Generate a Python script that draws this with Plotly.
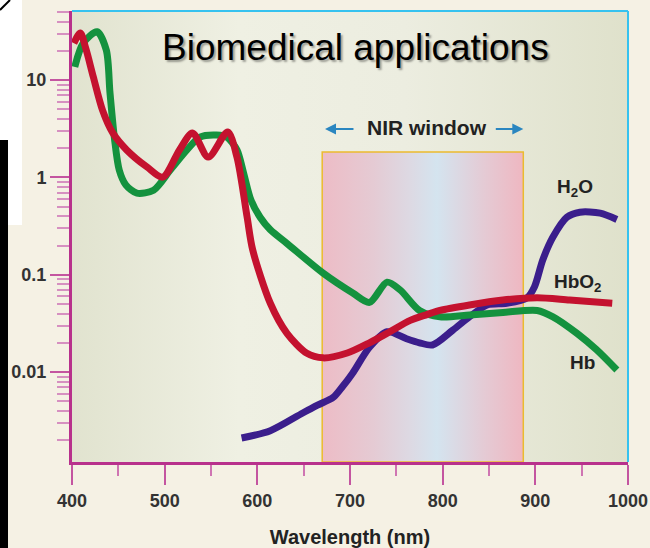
import plotly.graph_objects as go

# Absorption spectra (arbitrary absorption units, log scale)
WAVELENGTH_HB = [403, 412, 427, 437, 441, 446, 451, 458, 470, 488, 506, 524, 538, 556, 567,
                 578, 585, 593, 603, 614, 632, 671, 703, 721, 740, 754, 775, 797, 829, 865,
                 902, 919, 945, 966, 988]
ABS_HB = [13.7, 23.9, 31.5, 20.4, 7.4, 2.43, 1.19, 0.84, 0.69, 0.74, 1.19, 1.92, 2.6, 2.73,
          2.6, 1.92, 1.13, 0.59, 0.39, 0.29, 0.21, 0.104, 0.065, 0.052, 0.084, 0.070, 0.043,
          0.037, 0.0386, 0.041, 0.043, 0.037, 0.025, 0.017, 0.0105]

WAVELENGTH_HBO2 = [402, 409, 415, 423, 433, 444, 459, 481, 498, 516, 530, 547, 568, 578, 589,
                   595, 614, 632, 653, 671, 697, 721, 743, 765, 783, 797, 829, 865, 902, 937,
                   983]
ABS_HBO2 = [24.0, 30.5, 21.0, 10.8, 4.9, 2.87, 1.92, 1.28, 1.01, 1.92, 2.87, 1.62, 2.94, 1.62,
            0.39, 0.18, 0.051, 0.025, 0.0157, 0.014, 0.0157, 0.020, 0.026, 0.034, 0.039,
            0.043, 0.049, 0.055, 0.058, 0.055, 0.051]

WAVELENGTH_H2O = [583, 614, 649, 665, 682, 692, 703, 721, 740, 761, 775, 789, 811, 829, 848,
                  869, 891, 899, 908, 919, 934, 948, 970, 988]
ABS_H2O = [0.0021, 0.0025, 0.0038, 0.00457, 0.0055, 0.0071, 0.0098, 0.018, 0.026, 0.022,
           0.020, 0.019, 0.027, 0.037, 0.049, 0.051, 0.058, 0.075, 0.142, 0.244, 0.39, 0.44,
           0.43, 0.37]

X_TICKS = [400, 500, 600, 700, 800, 900, 1000]
X_MINOR = [450, 550, 650, 750, 850, 950]
Y_TICKS = [0.01, 0.1, 1, 10]
Y_TICK_TEXT = ["0.01", "0.1", "1", "10"]
Y_MINOR = [m * 10.0 ** e for e in range(-3, 2) for m in range(2, 10)]

NIR_START, NIR_END = 670, 887
NIR_TOP = 1.83

X_RANGE = [400, 1000]
Y_LOG_RANGE = [-2.924, 1.711]
Y_MIN, Y_MAX = 10 ** Y_LOG_RANGE[0], 10 ** Y_LOG_RANGE[1]

FONT = "Arial, Liberation Sans, sans-serif"
MAGENTA = "#b8318c"

fig = go.Figure()

# plot-area background tint
fig.add_trace(go.Scatter(
    x=[X_RANGE[0], X_RANGE[1], X_RANGE[1], X_RANGE[0], X_RANGE[0]],
    y=[Y_MIN, Y_MIN, Y_MAX, Y_MAX, Y_MIN],
    mode="lines", fill="toself", line=dict(width=0),
    fillgradient=dict(type="horizontal",
                      colorscale=[[0, "#e1e3cf"], [0.3, "#eff0e3"], [0.6, "#ecede0"],
                                  [1, "#dfe1cb"]]),
    hoverinfo="skip", showlegend=False))

# NIR window band
fig.add_trace(go.Scatter(
    x=[NIR_START, NIR_END, NIR_END, NIR_START, NIR_START],
    y=[Y_MIN, Y_MIN, NIR_TOP, NIR_TOP, Y_MIN],
    mode="lines", fill="toself", line=dict(width=1.5, color="#ebbb2e"),
    fillgradient=dict(type="horizontal",
                      colorscale=[[0, "#edbcc6"], [0.25, "#e5cad3"], [0.45, "#dcdae4"],
                                  [0.57, "#d4e4ef"], [0.8, "#e4cbd5"], [1, "#efb7c1"]]),
    hoverinfo="skip", showlegend=False))

for wl, ab, color, name in [
    (WAVELENGTH_H2O, ABS_H2O, "#3b1e8c", "H2O"),
    (WAVELENGTH_HB, ABS_HB, "#14923e", "Hb"),
    (WAVELENGTH_HBO2, ABS_HBO2, "#c4122f", "HbO2"),
]:
    fig.add_trace(go.Scatter(
        x=wl, y=ab, mode="lines", name=name,
        line=dict(color=color, width=7, shape="spline", smoothing=0.8),
        showlegend=False))

annotations = [
    dict(text="Biomedical applications", x=0.509, y=0.918, xref="paper", yref="paper",
         showarrow=False, xanchor="center", yanchor="middle",
         font=dict(family=FONT, size=37, color="#000000",
                   shadow="2px 2px 2px rgba(0,0,0,0.35)")),
    dict(text="<b>NIR window</b>", x=0.638, y=0.7406, xref="paper", yref="paper",
         showarrow=False, xanchor="center", yanchor="middle",
         font=dict(family=FONT, size=21, color="#222222")),
    dict(text="", x=NIR_START + 3, y=0.7384, xref="x", yref="paper",
         ax=30, ay=0, showarrow=True, arrowhead=2, arrowsize=1, arrowwidth=2.2,
         arrowcolor="#2a86c0"),
    dict(text="", x=NIR_END, y=0.7384, xref="x", yref="paper",
         ax=-29, ay=0, showarrow=True, arrowhead=2, arrowsize=1, arrowwidth=2.2,
         arrowcolor="#2a86c0"),
    dict(text="<b>H<sub>2</sub>O</b>", x=0.905, y=0.6075, xref="paper", yref="paper",
         showarrow=False, xanchor="center", yanchor="middle",
         font=dict(family=FONT, size=19, color="#222222")),
    dict(text="<b>HbO<sub>2</sub></b>", x=0.910, y=0.397, xref="paper", yref="paper",
         showarrow=False, xanchor="center", yanchor="middle",
         font=dict(family=FONT, size=19, color="#222222")),
    dict(text="<b>Hb</b>", x=0.919, y=0.2217, xref="paper", yref="paper",
         showarrow=False, xanchor="center", yanchor="middle",
         font=dict(family=FONT, size=19, color="#222222")),
]

shapes = [
    # page surround
    dict(type="rect", xref="paper", yref="paper", x0=-0.1295, x1=-0.0899, y0=0.5255,
         y1=1.03, fillcolor="#ffffff", line=dict(width=0), layer="below"),
    dict(type="rect", xref="paper", yref="paper", x0=-0.1295, x1=-0.1151, y0=-0.2,
         y1=0.714, fillcolor="#000000", line=dict(width=0), layer="below"),
    dict(type="line", xref="paper", yref="paper", x0=-0.1295, x1=-0.1115, y0=1.0022,
         y1=1.0244, line=dict(color="#000000", width=2)),
    # cyan frame on top and right
    dict(type="line", xref="paper", yref="paper", x0=0, x1=1, y0=1, y1=1,
         line=dict(color="#36c2ef", width=2)),
    dict(type="line", xref="paper", yref="paper", x0=1, x1=1, y0=0, y1=1,
         line=dict(color="#36c2ef", width=2)),
]

fig.update_layout(
    width=650, height=548,
    margin=dict(l=72, r=22, t=11, b=86),
    paper_bgcolor="#f5f1e4", plot_bgcolor="#e8e9d8",
    annotations=annotations, shapes=shapes,
    showlegend=False,
    font=dict(family=FONT),
)

fig.update_xaxes(
    range=X_RANGE, showgrid=False, zeroline=False, automargin=False,
    showline=True, linecolor=MAGENTA, linewidth=3,
    tickmode="array", tickvals=X_TICKS, ticktext=[str(v) for v in X_TICKS],
    ticks="outside", ticklen=20, tickwidth=2, tickcolor="#c455a0",
    tickfont=dict(family=FONT, size=18, color="#333333", weight="bold"),
    minor=dict(tickmode="array", tickvals=X_MINOR, ticks="outside", ticklen=11,
               tickwidth=2, tickcolor="#cf75b2"),
    title=dict(text="Wavelength (nm)", standoff=24,
               font=dict(family=FONT, size=20, color="#222222", weight="bold")),
)

fig.update_yaxes(
    type="log", range=Y_LOG_RANGE, showgrid=False, zeroline=False, automargin=False,
    showline=True, linecolor=MAGENTA, linewidth=3,
    tickmode="array", tickvals=Y_TICKS, ticktext=Y_TICK_TEXT,
    ticks="outside", ticklen=19, tickwidth=2, tickcolor="#c455a0",
    tickfont=dict(family=FONT, size=18, color="#333333", weight="bold"),
    minor=dict(tickmode="array", tickvals=Y_MINOR, ticks="outside", ticklen=12,
               tickwidth=2, tickcolor="#d690c0"),
)

fig.write_html("out.html")
